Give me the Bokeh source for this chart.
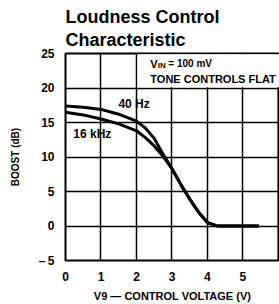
from bokeh.plotting import figure
from bokeh.models import Title, Label, BoxAnnotation, FixedTicker, Range1d
from bokeh.embed import file_html
from bokeh.resources import INLINE

# Data
volts_40hz = [0, 0.5, 1.0, 1.5, 2.0, 2.25, 2.5, 2.75, 3.0, 3.25, 3.5, 3.75, 4.0, 4.25, 4.4, 5.45]
boost_40hz = [17.4, 17.2, 16.9, 16.2, 15.2, 14.2, 12.7, 10.4, 8.3, 6.0, 3.9, 2.0, 0.5, 0.05, 0.0, 0.0]
volts_16khz = [0, 0.5, 1.0, 1.5, 2.0, 2.25, 2.5, 2.75, 3.0, 3.25, 3.5, 3.75, 4.0, 4.25, 4.4, 5.45]
boost_16khz = [16.5, 16.1, 15.5, 14.8, 13.8, 12.8, 11.6, 10.1, 8.3, 6.0, 3.9, 2.0, 0.5, 0.05, 0.0, 0.0]
x_ticks = [0, 1, 2, 3, 4, 5, 6]
x_label_ticks = [0, 1, 2, 3, 4, 5]
y_ticks = [-5, 0, 5, 10, 15, 20, 25]

FONT = "'Liberation Sans', Arial, sans-serif"

p = figure(width=279, height=304, output_backend="svg", toolbar_location=None,
           title=None, x_range=Range1d(0, 6.03), y_range=Range1d(-5, 25),
           min_border_left=65, min_border_right=0, min_border_top=53, min_border_bottom=43)
p.background_fill_color = "white"
p.border_fill_color = "white"
p.outline_line_color = "black"
p.outline_line_width = 2

t2 = Title(text="Characteristic", align="left", text_font=FONT, text_font_size="18px",
           text_font_style="bold", text_color="black", standoff=7, offset=0)
t1 = Title(text="Loudness Control", align="left", text_font=FONT, text_font_size="18px",
           text_font_style="bold", text_color="black", standoff=-4, offset=0)
p.add_layout(t2, "above")
p.add_layout(t1, "above")

for g, ticks in ((p.xgrid, x_ticks), (p.ygrid, y_ticks)):
    g.ticker = FixedTicker(ticks=ticks)
    g.grid_line_color = "black"
    g.grid_line_width = 1.5
    g.grid_line_alpha = 1.0

p.xaxis.ticker = FixedTicker(ticks=x_label_ticks)
p.yaxis.ticker = FixedTicker(ticks=y_ticks)
p.yaxis.major_label_overrides = {-5: "\u2013\u20095"}
for ax in (p.xaxis, p.yaxis):
    ax.axis_line_color = None
    ax.major_tick_line_color = None
    ax.minor_tick_line_color = None
    ax.major_tick_out = 0
    ax.major_tick_in = 0
    ax.major_label_text_font = FONT
    ax.major_label_text_font_style = "bold"
    ax.major_label_text_font_size = "12px"
    ax.major_label_text_color = "black"
    ax.axis_label_text_font = FONT
    ax.axis_label_text_font_style = "bold"
    ax.axis_label_text_color = "black"

p.xaxis.axis_label = "V9 \u2014 CONTROL VOLTAGE (V)"
p.xaxis.axis_label_text_font_size = "11px"
p.xaxis.major_label_standoff = 11
p.xaxis.axis_label_standoff = 6
p.yaxis.axis_label = "BOOST (dB)"
p.yaxis.axis_label_text_font_size = "10px"
p.yaxis.major_label_standoff = 11
p.yaxis.axis_label_standoff = 15

p.line(volts_40hz, boost_40hz, line_color="black", line_width=3)
p.line(volts_16khz, boost_16khz, line_color="black", line_width=3)

box = BoxAnnotation(left=2.03, right=6.5, bottom=20.12, top=24.9,
                    fill_color="white", fill_alpha=1.0, line_color=None)
p.add_layout(box)

def lab(x, y, text, size, x_offset=0, y_offset=0, align="left"):
    p.add_layout(Label(x=x, y=y, text=text, text_font=FONT, text_font_size=size,
                       text_font_style="bold", text_color="black", text_baseline="middle",
                       text_align=align, x_offset=x_offset, y_offset=y_offset))

lab(2.39, 23.5, "V", "11px")
lab(2.39, 23.5, "IN", "8px", x_offset=7.5, y_offset=-2)
lab(2.39, 23.5, "= 100 mV", "10px", x_offset=18)
lab(2.39, 21.3, "TONE CONTROLS FLAT", "11px")
lab(1.49, 17.7, "40 Hz", "12px")
lab(0.22, 13.3, "16 kHz", "12px")

open("out.html", "w").write(file_html(p, INLINE))
